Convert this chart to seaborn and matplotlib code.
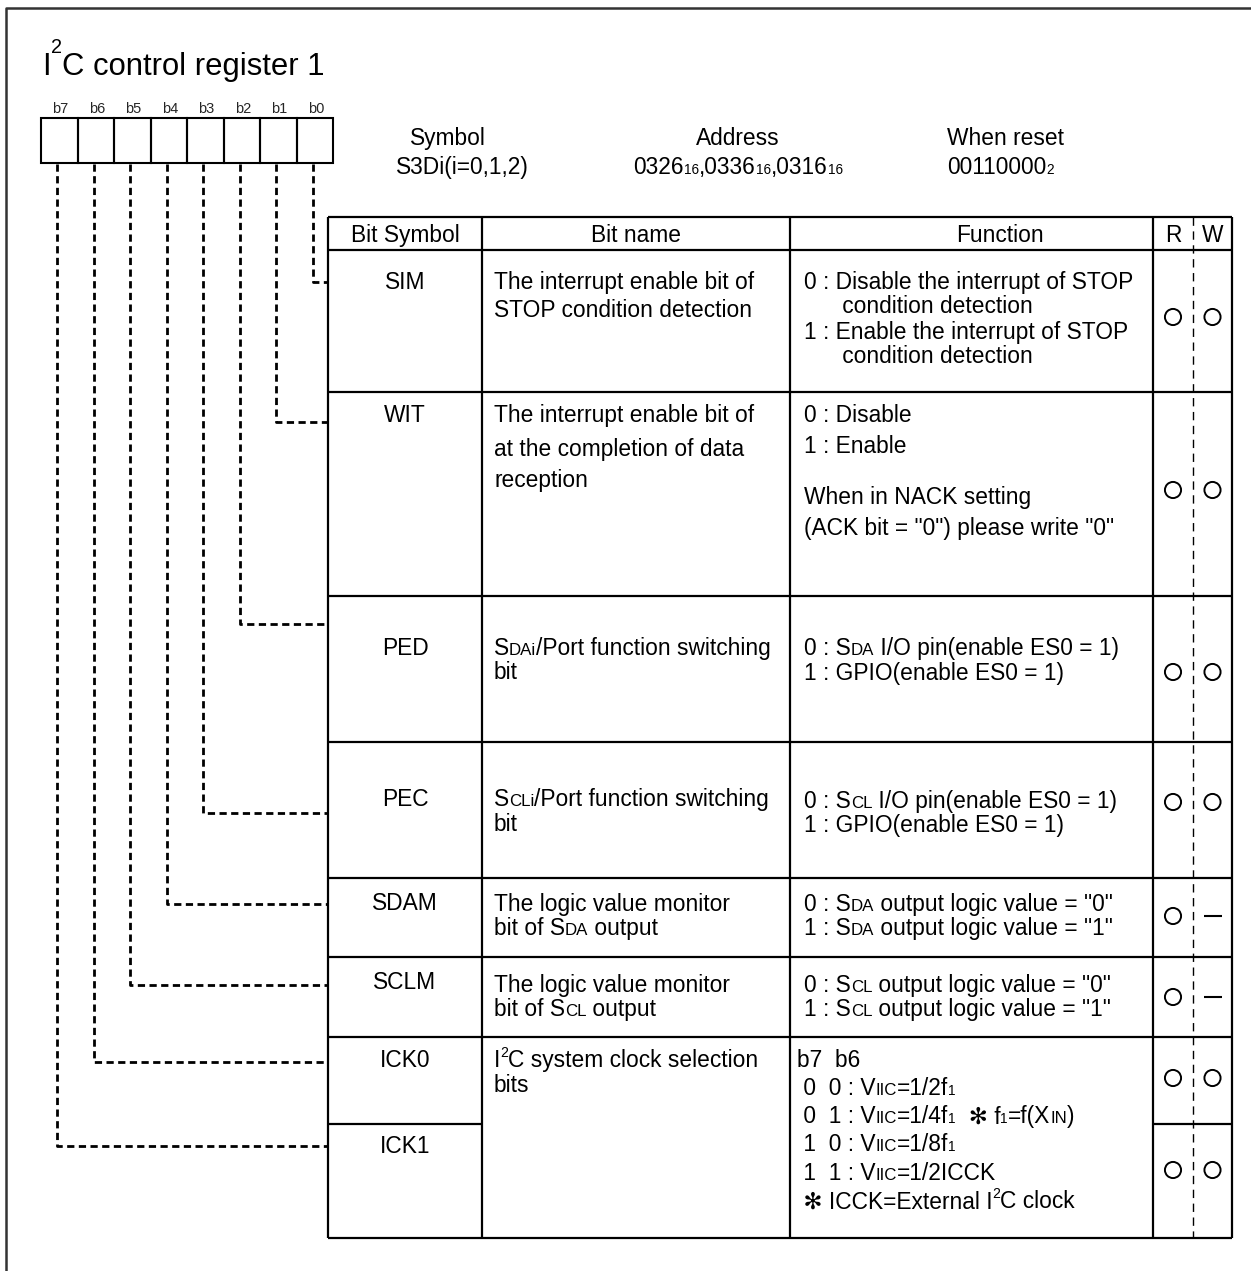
import re
import numpy as np
import pandas as pd
import seaborn as sns
import matplotlib.pyplot as plt
from matplotlib.font_manager import FontProperties

# register contents
title = 'I^{2}C control register 1'
bit_labels = ['b7', 'b6', 'b5', 'b4', 'b3', 'b2', 'b1', 'b0']
info_heads = ['Symbol', 'Address', 'When reset']
info_values = ['S3Di(i=0,1,2)', '0326_{16},0336_{16},0316_{16}', '00110000_{2}']
col_heads = ['Bit Symbol', 'Bit name', 'Function', 'R', 'W']

symbols = ['SIM', 'WIT', 'PED', 'PEC', 'SDAM', 'SCLM', 'ICK0', 'ICK1']
symbol_bits = ['b0', 'b1', 'b2', 'b3', 'b4', 'b5', 'b6', 'b7']
bit_names = [
    ['The interrupt enable bit of', 'STOP condition detection'],
    ['The interrupt enable bit of', 'at the completion of data', 'reception'],
    ['S{DAi}/Port function switching', 'bit'],
    ['S{CLi}/Port function switching', 'bit'],
    ['The logic value monitor', 'bit of S{DA} output'],
    ['The logic value monitor', 'bit of S{CL} output'],
    ['I^{2}C system clock selection', 'bits'],
    [],
]
functions = [
    ['0 : Disable the interrupt of STOP', '      condition detection',
     '1 : Enable the interrupt of STOP', '      condition detection'],
    ['0 : Disable', '1 : Enable', 'When in NACK setting',
     '(ACK bit = "0") please write "0"'],
    ['0 : S{DA} I/O pin(enable ES0 = 1)', '1 : GPIO(enable ES0 = 1)'],
    ['0 : S{CL} I/O pin(enable ES0 = 1)', '1 : GPIO(enable ES0 = 1)'],
    ['0 : S{DA} output logic value = "0"', '1 : S{DA} output logic value = "1"'],
    ['0 : S{CL} output logic value = "0"', '1 : S{CL} output logic value = "1"'],
    ['b7  b6', ' 0  0 : V{IIC}=1/2f_{1}',
     ' 0  1 : V{IIC}=1/4f_{1}  \u273b f_{1}=f(X{IN})',
     ' 1  0 : V{IIC}=1/8f_{1}', ' 1  1 : V{IIC}=1/2ICCK',
     ' \u273b ICCK=External I^{2}C clock'],
    [],
]
read_marks = ['o', 'o', 'o', 'o', 'o', 'o', 'o', 'o']
write_marks = ['o', 'o', 'o', 'o', '-', '-', 'o', 'o']

# layout (pixels, y down)
W, H = 1251, 1271
FAMILY = ['Liberation Sans', 'DejaVu Sans']
FS = 16.4
col_x = [328, 482, 790, 1153, 1232]
rw_mid = 1193
table_top, head_bot = 217, 250
row_edges = [250, 392, 596, 742, 878, 957, 1037, 1124, 1238]
sym_y = [281, 414, 647, 798, 902, 981, 1059, 1145]
name_y = [[281, 309], [414, 448, 479], [647, 671], [798, 823],
          [903, 927], [984, 1008], [1059, 1084], []]
func_x = [804, 804, 804, 804, 804, 804, 797, 797]
func_y = [[281, 305, 331, 355], [414, 445, 496, 527], [647, 672], [800, 824],
          [903, 927], [984, 1008], [1059, 1087, 1115, 1143, 1172, 1200], []]
rw_y = [317, 490, 672, 802, 916, 997, 1078, 1170]
leader_y = [282, 422, 624, 813, 904, 985, 1062, 1146]
box_x0, box_w, box_top, box_bot = 41, 36.5, 118, 163

sns.set_theme(style='white')
plt.rcParams['font.family'] = FAMILY

fig = plt.figure(figsize=(W / 100, H / 100), dpi=100)
ax = fig.add_axes([0, 0, 1, 1])
ax.set_xlim(0, W)
ax.set_ylim(H, 0)
ax.axis('off')
renderer = fig.canvas.get_renderer()

TOKEN = re.compile(r'(\^\{[^}]*\}|_\{[^}]*\}|\{[^}]*\})')


def parse(s, sup_rise, sup_k):
    parts = []
    for tok in TOKEN.split(s):
        if not tok:
            continue
        if tok.startswith('^{'):
            parts.append((tok[2:-1], sup_k, sup_rise))
        elif tok.startswith('_{'):
            parts.append((tok[2:-1], 0.6, 0.0))
        elif tok.startswith('{'):
            parts.append((tok[1:-1], 0.74, 0.0))
        else:
            parts.append((tok, 1.0, 0.0))
    return parts


def width(s, size):
    prop = FontProperties(family=FAMILY, size=size)
    w1 = renderer.get_text_width_height_descent('x' + s + 'x', prop, ismath=False)[0]
    w0 = renderer.get_text_width_height_descent('xx', prop, ismath=False)[0]
    return w1 - w0


def rich(x, yc, s, size=FS, ha='left', sup_rise=0.45, sup_k=0.62):
    em = size * 100 / 72
    base = yc + 0.36 * em
    parts = parse(s, sup_rise, sup_k)
    total = sum(width(t, size * k) for t, k, _ in parts)
    if ha == 'center':
        x = x - total / 2
    for t, k, r in parts:
        ax.text(x, base - r * em, t, fontsize=size * k, va='baseline',
                ha='left', color='black')
        x += width(t, size * k)


# outer frame
ax.plot([6, 6, W], [H, 8, 8], color='#333333', lw=1.8, solid_capstyle='butt')

# title
rich(42, 64, title, size=22.3, sup_rise=0.7, sup_k=0.64)

# register bit boxes
for i, lab in enumerate(bit_labels):
    x0 = box_x0 + i * box_w
    ax.add_patch(plt.Rectangle((x0, box_top), box_w, box_bot - box_top,
                               fill=False, lw=1.5, ec='black'))
    ax.text(x0 + box_w / 2 + 1, 113, lab, fontsize=10.5, ha='center', va='baseline')

# symbol / address / reset
rich(448, 137, info_heads[0], ha='center')
rich(462, 166, info_values[0], ha='center')
rich(738, 137, info_heads[1], ha='center')
rich(738, 166, info_values[1], ha='center')
rich(947, 137, info_heads[2])
rich(947, 166, info_values[2])

# table grid
lk = dict(color='black', lw=1.6)
ax.hlines([table_top, head_bot] + row_edges[1:7] + [row_edges[-1]],
          col_x[0], col_x[-1], **lk)
ax.hlines(row_edges[7], col_x[0], col_x[1], **lk)
ax.hlines(row_edges[7], col_x[3], col_x[4], **lk)
ax.vlines(col_x, table_top, row_edges[-1], **lk)
ax.vlines(rw_mid, table_top, row_edges[-1], color='black', lw=1.0,
          linestyles=(0, (6, 4)))

# header row
hy = 234
rich((col_x[0] + col_x[1]) / 2, hy, col_heads[0], ha='center')
rich((col_x[1] + col_x[2]) / 2, hy, col_heads[1], ha='center')
rich((col_x[2] + col_x[3]) / 2 + 28, hy, col_heads[2], ha='center')
rich((col_x[3] + rw_mid) / 2, hy, col_heads[3], ha='center')
rich((rw_mid + col_x[4]) / 2, hy, col_heads[4], ha='center')

# rows
for i, sym in enumerate(symbols):
    rich((col_x[0] + col_x[1]) / 2, sym_y[i], sym, ha='center')
    for line, y in zip(bit_names[i], name_y[i]):
        rich(494, y, line)
    for line, y in zip(functions[i], func_y[i]):
        rich(func_x[i], y, line)

# R/W marks
marks = pd.DataFrame({
    'x': [(col_x[3] + rw_mid) / 2] * len(symbols) + [(rw_mid + col_x[4]) / 2] * len(symbols),
    'y': rw_y + rw_y,
    'mark': read_marks + write_marks,
})
sns.scatterplot(data=marks[marks['mark'] == 'o'], x='x', y='y', ax=ax,
                marker='o', s=135, color='black', facecolor='none',
                edgecolor='black', linewidth=1.4, legend=False)
sns.scatterplot(data=marks[marks['mark'] == '-'], x='x', y='y', ax=ax,
                marker='_', s=150, color='black', linewidth=1.5, legend=False)

# dashed leaders from bit boxes to rows
dash = (0, (2.6, 1.6))
for sym, bit, ly in zip(symbols, symbol_bits, leader_y):
    idx = bit_labels.index(bit)
    bx = box_x0 + (idx + 0.5) * box_w - 2
    ax.plot([bx, bx, col_x[0]], [box_bot + 1, ly, ly], color='black',
            lw=2.0, linestyle=dash)

ax.set_xlim(0, W)
ax.set_ylim(H, 0)
fig.savefig('out.png', dpi=100)
